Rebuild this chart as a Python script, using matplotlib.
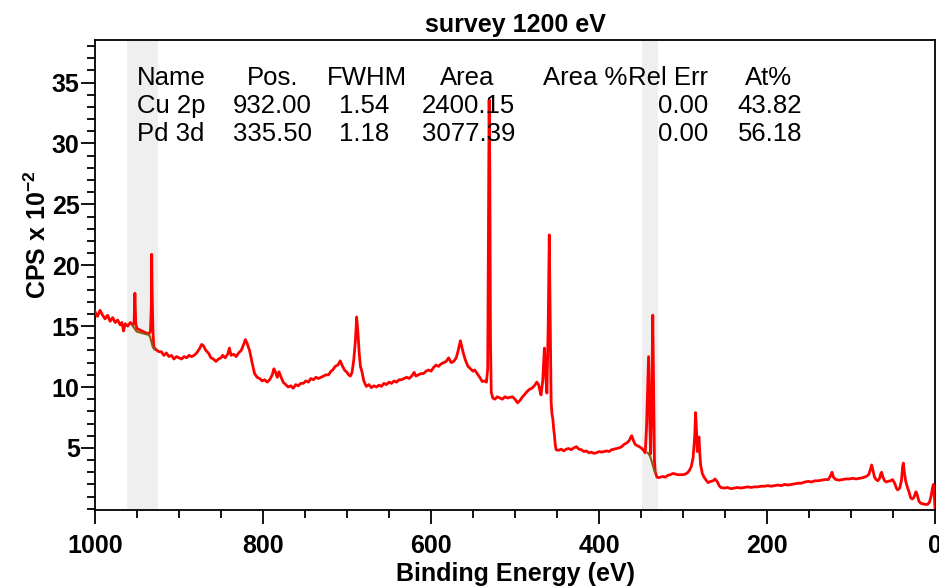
import matplotlib
matplotlib.use("Agg")
import matplotlib.pyplot as plt
from matplotlib.ticker import MultipleLocator

plt.rcParams['font.family'] = ['Liberation Sans', 'DejaVu Sans']
plt.rcParams['mathtext.fontset'] = 'custom'
plt.rcParams['mathtext.rm'] = 'Liberation Sans:bold'
plt.rcParams['mathtext.bf'] = 'Liberation Sans:bold'

# ---- data ----
energy = [1000, 997, 994, 991, 988, 985, 982, 979, 976, 973, 970, 968, 966, 964, 961, 958, 955,
          953.5, 952.5, 951.5, 950, 947, 944, 941, 938, 935.5, 934, 933, 932.5, 932, 931, 930,
          928, 926, 924, 921, 918, 915, 912, 909, 906, 903, 900, 897, 894, 891, 888, 885, 882,
          879, 876, 873, 871, 868, 865, 862, 859, 856, 853, 850, 848, 845, 842, 840, 838, 835,
          832, 829, 826, 823, 821, 819, 816, 813, 810, 807, 804, 801, 798, 795, 792, 789, 787,
          785, 783, 781, 779, 776, 773, 770, 767, 764, 761, 758, 755, 752, 749, 746, 743, 740,
          737, 734, 731, 728, 725, 722, 719, 717, 714, 711, 708, 706, 703, 700, 698, 696, 694,
          692, 690, 688.5, 687, 685.5, 684, 682, 680, 677, 674, 671, 668, 665, 662, 659, 656,
          653, 650, 647, 644, 641, 638, 635, 632, 629, 626, 623, 620, 618, 615, 612, 609, 606,
          603, 600, 597, 594, 591, 588, 585, 582, 579, 576, 573, 570, 568, 566, 565, 563, 561,
          559, 556, 553, 550, 548, 545, 542, 539, 536, 534, 532.5, 531.5, 530.8, 530, 529.2,
          528.3, 526.5, 524, 521, 518, 515, 512, 509, 506, 503, 500, 497, 494, 491, 489, 486,
          483, 480, 477, 474, 472, 470, 469, 467, 465, 463.5, 462, 460.5, 459.2, 458, 457, 456,
          455, 454, 453, 452, 451, 448, 445, 442, 439, 436, 433, 430, 427, 424, 421, 418, 415,
          412, 409, 406, 403, 400, 397, 394, 391, 388, 385, 382, 379, 376, 373, 370, 367, 364,
          362, 361, 359, 357, 355, 352, 349, 347, 345, 343.5, 341, 339.5, 338.5, 337.2, 336,
          335, 334, 333, 331, 329, 327, 324, 321, 318, 315, 312, 309, 306, 303, 300, 297, 294,
          292, 290, 288, 286, 285, 284, 283, 282, 281, 280, 279, 277, 275, 272, 270, 267, 264,
          262, 259, 257, 255, 251, 247, 243, 239, 235, 231, 227, 223, 219, 215, 211, 207, 203,
          199, 195, 191, 187, 183, 179, 175, 171, 167, 163, 159, 155, 151, 147, 143, 139, 135,
          131, 127, 124.5, 122.6, 121, 118, 114, 110, 106, 102, 98, 94, 90, 86, 82, 79, 77,
          75.4, 74, 72, 70, 68, 66, 64.5, 63.5, 62, 60, 58, 56, 53, 50.5, 48, 46, 44.4, 42, 40,
          38.5, 37.7, 36.5, 35, 33, 31, 29, 27, 25, 22.6, 21, 19, 17, 14, 11, 8.7, 6.5, 4.8, 3,
          2, 1, 0]
cps = [16.2, 15.8, 16.3, 15.9, 15.6, 15.9, 15.4, 15.7, 15.3, 15.5, 15.1, 15.3, 14.6, 15.2, 15.0,
       15.3, 15.1, 15.2, 17.7, 15.2, 14.8, 14.7, 14.6, 14.5, 14.4, 14.4, 14.6, 16.5, 20.9, 18.0,
       14.5, 13.3, 13.1, 13.0, 12.9, 12.9, 12.6, 12.8, 12.5, 12.6, 12.3, 12.5, 12.4, 12.3, 12.5,
       12.4, 12.6, 12.5, 12.6, 12.8, 13.1, 13.5, 13.4, 13.0, 12.8, 12.4, 12.3, 12.1, 12.3, 12.4,
       12.6, 12.4, 12.7, 13.2, 12.6, 12.7, 12.5, 12.8, 13.0, 13.5, 13.9, 13.6, 13.0, 12.0, 11.1,
       10.8, 10.7, 10.5, 10.6, 10.4, 10.6, 11.0, 11.5, 11.2, 10.8, 11.25, 10.9, 10.4, 10.2, 10.0,
       10.1, 9.9, 10.2, 10.1, 10.3, 10.3, 10.5, 10.4, 10.7, 10.6, 10.8, 10.7, 10.8, 10.9, 11.0,
       11.0, 11.3, 11.4, 11.7, 11.8, 12.15, 11.8, 11.4, 11.2, 11.0, 10.9, 11.2, 12.2, 13.8, 15.75,
       14.5, 12.8, 11.7, 11.2, 10.5, 10.05, 10.2, 9.95, 10.1, 10.0, 10.15, 10.05, 10.3, 10.2,
       10.4, 10.3, 10.5, 10.4, 10.6, 10.6, 10.7, 10.8, 10.7, 10.9, 11.2, 10.9, 11.0, 11.1, 11.1,
       11.3, 11.4, 11.3, 11.6, 11.8, 11.7, 11.9, 12.0, 12.1, 12.4, 12.0, 12.1, 12.4, 12.9, 13.5,
       13.8, 13.2, 12.65, 12.2, 11.7, 11.5, 11.3, 11.4, 11.1, 10.8, 10.45, 10.5, 10.4, 11.5, 25.0,
       33.6, 28.0, 14.0, 9.6, 9.1, 9.0, 9.2, 9.1, 9.0, 9.2, 9.1, 9.15, 9.2, 9.0, 8.7, 8.9, 9.2,
       9.35, 9.6, 9.8, 9.9, 10.1, 10.4, 10.2, 9.6, 9.35, 10.5, 13.2, 11.0, 9.5, 15.0, 22.5, 15.0,
       8.8, 7.8, 7.4, 6.6, 6.0, 5.2, 4.85, 4.8, 4.9, 4.75, 4.9, 4.95, 4.85, 5.0, 5.1, 4.9, 4.85,
       4.7, 4.75, 4.6, 4.65, 4.55, 4.6, 4.7, 4.65, 4.7, 4.75, 4.7, 4.85, 4.9, 4.95, 5.0, 5.1, 5.3,
       5.4, 5.6, 5.9, 6.0, 5.6, 5.3, 5.2, 5.1, 4.95, 4.8, 4.6, 6.5, 12.5, 7.0, 4.5, 9.0, 15.9,
       10.0, 4.0, 3.0, 2.6, 2.55, 2.6, 2.65, 2.6, 2.75, 2.8, 2.9, 2.85, 2.8, 2.8, 2.8, 2.85, 3.0,
       3.2, 3.5, 4.2, 6.0, 7.9, 6.5, 4.7, 5.4, 5.9, 4.6, 3.6, 2.9, 2.6, 2.3, 2.15, 2.25, 2.3,
       2.45, 2.2, 1.9, 1.75, 1.7, 1.75, 1.65, 1.7, 1.75, 1.7, 1.75, 1.8, 1.75, 1.8, 1.8, 1.85,
       1.85, 1.9, 1.85, 1.9, 1.95, 1.9, 2.0, 1.95, 2.0, 2.05, 2.1, 2.1, 2.2, 2.25, 2.2, 2.3, 2.3,
       2.35, 2.4, 2.4, 2.7, 3.0, 2.6, 2.4, 2.35, 2.4, 2.45, 2.45, 2.5, 2.45, 2.5, 2.55, 2.65,
       2.8, 3.2, 3.6, 3.2, 2.6, 2.4, 2.3, 2.5, 2.9, 3.0, 2.6, 2.3, 2.2, 2.25, 2.3, 2.4, 2.1, 1.7,
       1.55, 1.7, 2.3, 3.5, 3.75, 3.0, 2.3, 1.8, 1.4, 0.9, 0.8, 0.95, 1.4, 1.1, 0.6, 0.45, 0.4,
       0.35, 0.37, 0.55, 1.0, 1.7, 2.0, 1.2, 0.1]

# Shirley backgrounds under the quantified peaks
bg_cu_energy = [955, 950.3, 945, 940, 936.5, 934.5, 931.3, 929.5]
bg_cu_cps = [15.0, 14.55, 14.45, 14.35, 14.3, 14.15, 13.3, 13.1]
bg_pd_energy = [342, 339, 336, 334, 333]
bg_pd_cps = [4.6, 4.3, 3.6, 3.1, 3.0]

# quantification regions (BE ranges)
regions = [(962, 925), (349, 330)]

# quantification table
table_header = ["Name", "Pos.", "FWHM", "Area", "Area %", "Rel Err", "At%"]
table_names = ["Cu 2p", "Pd 3d"]
table_pos = ["932.00", "335.50"]
table_fwhm = ["1.54", "1.18"]
table_area = ["2400.15", "3077.39"]
table_relerr = ["0.00", "0.00"]
table_at = ["43.82", "56.18"]

W, H = 939, 586
fig = plt.figure(figsize=(W / 100, H / 100), dpi=100)
ax = fig.add_axes([95 / W, 1 - 510 / H, 840 / W, 470 / H])

for lo, hi in regions:
    ax.axvspan(lo, hi, color='#efefef', lw=0, zorder=0)

ax.plot(energy, cps, color='#ff0000', lw=2.0, zorder=3)
ax.plot(bg_cu_energy, bg_cu_cps, color='#8a5a10', lw=1.5, zorder=4)
ax.plot(bg_pd_energy, bg_pd_cps, color='#8a5a10', lw=1.5, zorder=4)

ax.set_xlim(1000, 0)
ax.set_ylim(-0.1, 38.5)
ax.xaxis.set_major_locator(MultipleLocator(200))
ax.xaxis.set_minor_locator(MultipleLocator(50))
ax.yaxis.set_major_locator(MultipleLocator(5))
ax.yaxis.set_minor_locator(MultipleLocator(1))
ax.set_yticks([5, 10, 15, 20, 25, 30, 35])

for s in ax.spines.values():
    s.set_linewidth(1.3)
    s.set_color('black')

ax.tick_params(which='major', direction='out', length=10, width=1.3, labelsize=18)
ax.tick_params(which='minor', direction='out', length=5.5, width=1.3)
ax.tick_params(axis='x', which='major', pad=7)
ax.tick_params(axis='y', which='major', pad=1)
ax.tick_params(top=False, right=False)
for lab in ax.get_xticklabels() + ax.get_yticklabels():
    lab.set_fontweight('bold')

ax.set_title("survey 1200 eV", fontsize=18, fontweight='bold', pad=6)
ax.set_xlabel("Binding Energy (eV)", fontsize=18, fontweight='bold', labelpad=3)
ax.set_ylabel(r"CPS x 10$^{-2}$", fontsize=18, fontweight='bold')
ax.yaxis.set_label_coords(-0.052, 0.585)

# table (pixel positions converted to figure fraction)
def ftxt(x, y, s, ha):
    fig.text(x / W, 1 - y / H, s, ha=ha, va='center', fontsize=18.5, color='black')

rows_y = [78, 106, 134]
ftxt(137, rows_y[0], table_header[0], 'left')
ftxt(273, rows_y[0], table_header[1], 'center')
ftxt(367, rows_y[0], table_header[2], 'center')
ftxt(467, rows_y[0], table_header[3], 'center')
ftxt(543, rows_y[0], table_header[4], 'left')
ftxt(708, rows_y[0], table_header[5], 'right')
ftxt(769, rows_y[0], table_header[6], 'center')
for i in range(2):
    y = rows_y[i + 1]
    ftxt(137, y, table_names[i], 'left')
    ftxt(312, y, table_pos[i], 'right')
    ftxt(389, y, table_fwhm[i], 'right')
    ftxt(515, y, table_area[i], 'right')
    ftxt(708, y, table_relerr[i], 'right')
    ftxt(802, y, table_at[i], 'right')

fig.savefig("out.png", dpi=100)
